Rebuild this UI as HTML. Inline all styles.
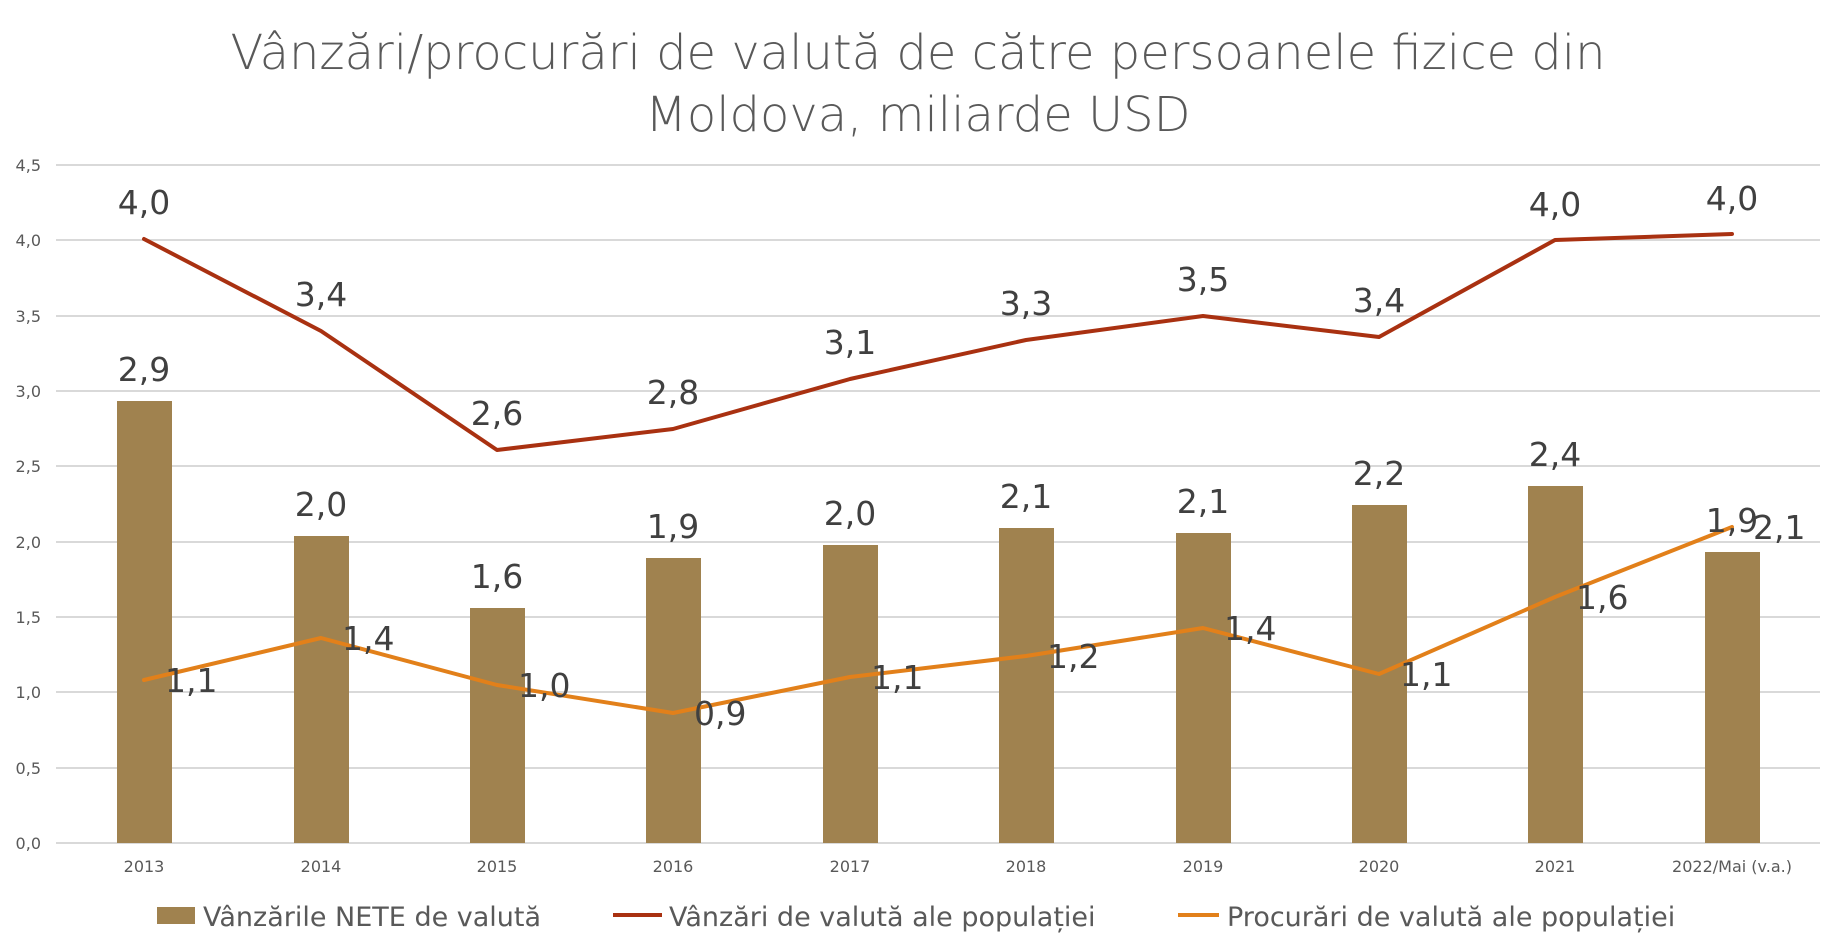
<!DOCTYPE html>
<html><head><meta charset="utf-8"><style>
html,body{margin:0;padding:0;background:#fff;}
svg{display:block;font-family:"DejaVu Sans","Liberation Sans",sans-serif;}
</style></head><body>
<svg width="1835" height="943" viewBox="0 0 1835 943" xmlns="http://www.w3.org/2000/svg">
<rect width="1835" height="943" fill="#fff"/>
<g fill="#595959" font-size="48" text-anchor="middle" font-weight="300">
<text x="918" y="69">Vânzări/procurări de valută de către persoanele fizice din</text>
<text x="918" y="131">Moldova, miliarde USD</text>
</g>
<g stroke="#d9d9d9" stroke-width="2">
<line x1="56" x2="1820" y1="165" y2="165"/><line x1="56" x2="1820" y1="240" y2="240"/>
<line x1="56" x2="1820" y1="316" y2="316"/><line x1="56" x2="1820" y1="391" y2="391"/>
<line x1="56" x2="1820" y1="466" y2="466"/><line x1="56" x2="1820" y1="542" y2="542"/>
<line x1="56" x2="1820" y1="617" y2="617"/><line x1="56" x2="1820" y1="692" y2="692"/>
<line x1="56" x2="1820" y1="768" y2="768"/><line x1="56" x2="1820" y1="843" y2="843"/>
</g>
<g fill="#595959" font-size="16" text-anchor="end">
<text x="41" y="171">4,5</text><text x="41" y="246">4,0</text><text x="41" y="322">3,5</text>
<text x="41" y="397">3,0</text><text x="41" y="472">2,5</text><text x="41" y="548">2,0</text>
<text x="41" y="623">1,5</text><text x="41" y="698">1,0</text><text x="41" y="774">0,5</text><text x="41" y="849">0,0</text>
</g>
<g fill="#A0824F">
<rect x="117" y="401" width="55" height="442"/><rect x="294" y="536" width="55" height="307"/>
<rect x="470" y="608" width="55" height="235"/><rect x="646" y="558" width="55" height="285"/>
<rect x="823" y="545" width="55" height="298"/><rect x="999" y="528" width="55" height="315"/>
<rect x="1176" y="533" width="55" height="310"/><rect x="1352" y="505" width="55" height="338"/>
<rect x="1528" y="486" width="55" height="357"/><rect x="1705" y="552" width="55" height="291"/>
</g>
<polyline fill="none" stroke="#A93111" stroke-width="4" stroke-linejoin="round" stroke-linecap="round" points="144,239 321,331 497,450 673,429 850,379 1026,340 1203,316 1379,337 1555,240 1732,234"/>
<polyline fill="none" stroke="#E2801A" stroke-width="4" stroke-linejoin="round" stroke-linecap="round" points="144,680 321,638 497,685 673,713 850,677 1026,656 1203,628 1379,674 1555,597 1732,527"/>
<g fill="#404040" font-size="33" text-anchor="middle">
<text x="144" y="214">4,0</text><text x="321" y="306">3,4</text><text x="497" y="425">2,6</text>
<text x="673" y="404">2,8</text><text x="850" y="354">3,1</text><text x="1026" y="315">3,3</text>
<text x="1203" y="291">3,5</text><text x="1379" y="312">3,4</text><text x="1555" y="216">4,0</text><text x="1732" y="210">4,0</text>
<text x="144" y="381">2,9</text><text x="321" y="516">2,0</text><text x="497" y="588">1,6</text>
<text x="673" y="538">1,9</text><text x="850" y="525">2,0</text><text x="1026" y="508">2,1</text>
<text x="1203" y="513">2,1</text><text x="1379" y="485">2,2</text><text x="1555" y="466">2,4</text><text x="1732" y="532">1,9</text>
</g>
<g fill="#404040" font-size="33" text-anchor="start">
<text x="165" y="692">1,1</text><text x="342" y="650">1,4</text><text x="518" y="697">1,0</text>
<text x="694" y="725">0,9</text><text x="871" y="689">1,1</text><text x="1047" y="668">1,2</text>
<text x="1224" y="640">1,4</text><text x="1400" y="686">1,1</text><text x="1576" y="609">1,6</text><text x="1753" y="539">2,1</text>
</g>
<g fill="#595959" font-size="16" text-anchor="middle">
<text x="144" y="872">2013</text><text x="321" y="872">2014</text><text x="497" y="872">2015</text>
<text x="673" y="872">2016</text><text x="850" y="872">2017</text><text x="1026" y="872">2018</text>
<text x="1203" y="872">2019</text><text x="1379" y="872">2020</text><text x="1555" y="872">2021</text><text x="1732" y="872">2022/Mai (v.a.)</text>
</g>
<rect x="157" y="907" width="38" height="17" fill="#A0824F"/>
<line x1="613" x2="662" y1="915" y2="915" stroke="#A93111" stroke-width="4"/>
<line x1="1178" x2="1219" y1="915" y2="915" stroke="#E2801A" stroke-width="4"/>
<g fill="#595959" font-size="27">
<text x="203" y="926">Vânzările NETE de valută</text>
<text x="669" y="926">Vânzări de valută ale populației</text>
<text x="1227" y="926">Procurări de valută ale populației</text>
</g>
</svg>
</body></html>
